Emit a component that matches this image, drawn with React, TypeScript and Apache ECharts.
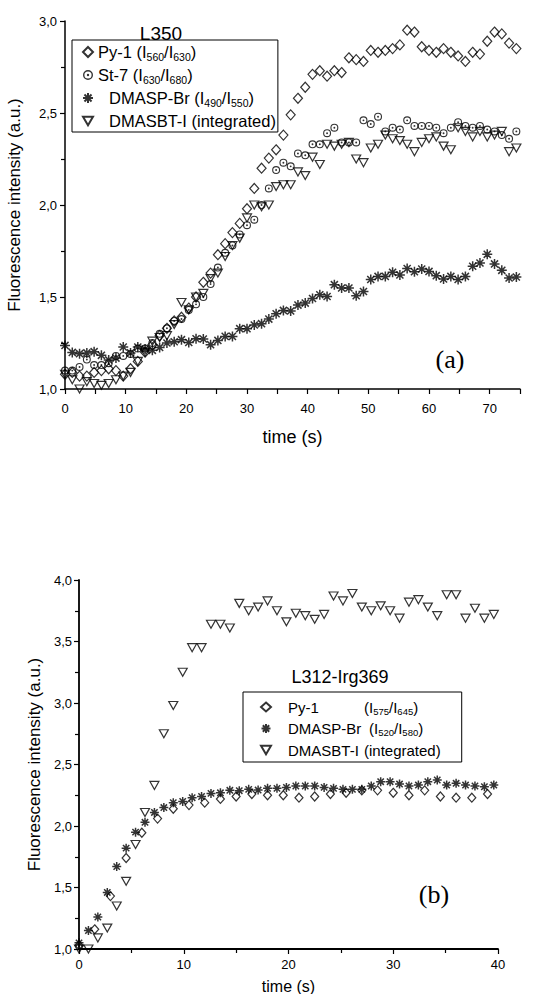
import React, { useEffect, useRef } from "react";
import * as echarts from "echarts";

// ---------- Panel (a): L350 ----------
const topTime = [0, 1.2, 2.4, 3.6, 4.8, 6, 7.2, 8.4, 9.6, 10.8, 12, 13.2, 14.4, 15.6, 16.8, 18, 19.2, 20.4, 21.6, 22.8, 24, 25.2, 26.4, 27.6, 28.8, 30, 31.2, 32.4, 33.6, 34.8, 36, 37.2, 38.4, 39.6, 40.8, 42, 43.2, 44.4, 45.6, 46.8, 48, 49.2, 50.4, 51.6, 52.8, 54, 55.2, 56.4, 57.6, 58.8, 60, 61.2, 62.4, 63.6, 64.8, 66, 67.2, 68.4, 69.6, 70.8, 72, 73.2, 74.4];
const topPy1 = [1.08, 1.09, 1.07, 1.07, 1.09, 1.10, 1.11, 1.10, 1.07, 1.11, 1.15, 1.20, 1.24, 1.29, 1.33, 1.37, 1.39, 1.44, 1.50, 1.58, 1.63, 1.73, 1.79, 1.85, 1.90, 1.98, 2.09, 2.20, 2.255, 2.30, 2.38, 2.49, 2.58, 2.64, 2.71, 2.73, 2.70, 2.73, 2.72, 2.80, 2.79, 2.78, 2.84, 2.83, 2.84, 2.85, 2.87, 2.95, 2.94, 2.86, 2.84, 2.83, 2.85, 2.83, 2.81, 2.78, 2.83, 2.82, 2.89, 2.94, 2.93, 2.88, 2.85];
const topSt7 = [1.10, 1.10, 1.12, 1.16, 1.13, 1.13, 1.14, 1.18, 1.18, 1.19, 1.22, 1.22, 1.25, 1.30, 1.33, 1.37, 1.38, 1.43, 1.46, 1.50, 1.57, 1.66, 1.74, 1.78, 1.84, 1.89, 1.92, 2.00, 2.09, 2.19, 2.23, 2.21, 2.28, 2.27, 2.33, 2.33, 2.39, 2.42, 2.34, 2.34, 2.34, 2.46, 2.44, 2.48, 2.40, 2.42, 2.41, 2.46, 2.43, 2.43, 2.43, 2.42, 2.39, 2.42, 2.45, 2.43, 2.42, 2.43, 2.41, 2.40, 2.38, 2.36, 2.40];
const topDmaspBr = [1.237, 1.199, 1.192, 1.196, 1.203, 1.183, 1.158, 1.168, 1.228, 1.196, 1.228, 1.217, 1.210, 1.226, 1.250, 1.257, 1.268, 1.253, 1.273, 1.272, 1.241, 1.264, 1.286, 1.286, 1.328, 1.328, 1.348, 1.355, 1.380, 1.409, 1.427, 1.424, 1.456, 1.467, 1.492, 1.512, 1.503, 1.567, 1.549, 1.549, 1.507, 1.530, 1.595, 1.612, 1.612, 1.634, 1.620, 1.655, 1.637, 1.652, 1.639, 1.616, 1.598, 1.612, 1.595, 1.612, 1.667, 1.685, 1.732, 1.680, 1.645, 1.603, 1.609];
const topDmasbtI = [1.08, 1.05, 1.00, 1.04, 1.03, 1.02, 1.03, 1.05, 1.07, 1.09, 1.15, 1.20, 1.26, 1.28, 1.29, 1.35, 1.47, 1.43, 1.50, 1.52, 1.60, 1.63, 1.72, 1.78, 1.82, 1.93, 2.00, 1.99, 2.00, 2.10, 2.11, 2.11, 2.18, 2.16, 2.26, 2.22, 2.33, 2.32, 2.33, 2.34, 2.25, 2.23, 2.31, 2.33, 2.38, 2.36, 2.35, 2.33, 2.29, 2.34, 2.36, 2.37, 2.32, 2.30, 2.42, 2.40, 2.37, 2.40, 2.37, 2.38, 2.40, 2.29, 2.31];

// ---------- Panel (b): L312-Irg369 ----------
const botTime = [0, 0.9, 1.8, 2.7, 3.6, 4.5, 5.4, 6.3, 7.2, 8.1, 9, 9.9, 10.8, 11.7, 12.6, 13.5, 14.4, 15.3, 16.2, 17.1, 18, 18.9, 19.8, 20.7, 21.6, 22.5, 23.4, 24.3, 25.2, 26.1, 27, 27.9, 28.8, 29.7, 30.6, 31.5, 32.4, 33.3, 34.2, 35.1, 36, 36.9, 37.8, 38.7, 39.6];
const botPyTime = [0, 1.5, 3, 4.5, 6, 7.5, 9, 10.5, 12, 13.5, 15, 16.5, 18, 19.5, 21, 22.5, 24, 25.5, 27, 28.5, 30, 31.5, 33, 34.5, 36, 37.5, 39];
const botPy1 = [1.03, 1.16, 1.43, 1.74, 1.945, 2.06, 2.14, 2.17, 2.19, 2.22, 2.24, 2.26, 2.25, 2.25, 2.23, 2.24, 2.26, 2.27, 2.29, 2.29, 2.27, 2.25, 2.29, 2.24, 2.23, 2.23, 2.26];
const botDmaspBr = [1.05, 1.15, 1.26, 1.46, 1.67, 1.82, 1.95, 2.03, 2.11, 2.15, 2.19, 2.20, 2.23, 2.24, 2.265, 2.27, 2.29, 2.287, 2.298, 2.292, 2.306, 2.306, 2.314, 2.325, 2.325, 2.325, 2.314, 2.306, 2.298, 2.298, 2.298, 2.325, 2.36, 2.36, 2.341, 2.325, 2.333, 2.36, 2.374, 2.333, 2.347, 2.333, 2.325, 2.319, 2.333];
const botDmasbtI = [1.00, 1.00, 1.09, 1.17, 1.35, 1.55, 1.85, 2.11, 2.33, 2.75, 2.98, 3.25, 3.45, 3.45, 3.64, 3.64, 3.61, 3.81, 3.75, 3.78, 3.83, 3.75, 3.66, 3.73, 3.71, 3.68, 3.72, 3.87, 3.83, 3.89, 3.78, 3.75, 3.79, 3.75, 3.69, 3.82, 3.84, 3.78, 3.71, 3.88, 3.88, 3.69, 3.77, 3.69, 3.72];

const FONT = '"Liberation Sans", Arial, Helvetica, sans-serif';
const SERIF = '"Liberation Serif", "Times New Roman", serif';

const SYM_STAR = "path://M10,0L10,20M0,10L20,10M2.93,2.93L17.07,17.07M2.93,17.07L17.07,2.93";
const SYM_CIRCDOT =
  "path://M10,0A10,10 0 1,1 10,20A10,10 0 1,1 10,0Z M10,2.8A7.2,7.2 0 1,0 10,17.2A7.2,7.2 0 1,0 10,2.8Z M10,7.6A2.4,2.4 0 1,1 10,12.4A2.4,2.4 0 1,1 10,7.6Z";
const SYM_TRI = "path://M0,0L20,0L10,17.3Z";

const hollow = { color: "rgba(255,255,255,0)", borderColor: "#000", borderWidth: 1.2 };
const starStyle = { color: "#000", borderColor: "#000", borderWidth: 1.5 };
const dotStyle = { color: "#000", borderWidth: 0 };

const zip = (xs: number[], ys: number[]) => xs.map((x, i) => [x, ys[i]]);
const comma = (v: number) => v.toFixed(1).replace(".", ",");

const topLabels: Record<string, string> = {
  "Py-1 a": "Py-1 (I{s|560}/I{s|630})",
  "St-7 a": "St-7 (I{s|630}/I{s|680})",
  "DMASP-Br a": "{p| }DMASP-Br (I{s|490}/I{s|550})",
  "DMASBT-I a": "{p| }DMASBT-I (integrated)",
};
const botLabels: Record<string, string> = {
  "Py-1 b": "{q| }{a|Py-1}(I{s|575}/I{s|645})",
  "DMASP-Br b": "{q| }{b|DMASP-Br}(I{s|520}/I{s|580})",
  "DMASBT-I b": "{q| }{c|DMASBT-I}(integrated)",
};

function axisCommon(lineWidth: number) {
  return {
    axisLine: { show: true, onZero: false, lineStyle: { color: "#000", width: lineWidth } },
    axisTick: { show: true, inside: false, length: 5, lineStyle: { color: "#000", width: 1.2 } },
    splitLine: { show: false },
  };
}

export default function App() {
  const ref = useRef<HTMLDivElement>(null);
  useEffect(() => {
    if (!ref.current) return;
    const chart = echarts.init(ref.current, null, { renderer: "svg" });
    const tF = { fontSize: 16.5, lineHeight: 20, color: "#000", fontFamily: FONT };
    const bF = { fontSize: 15, lineHeight: 18, color: "#000", fontFamily: FONT };
    const option: any = {
      animation: false,
      backgroundColor: "#fff",
      textStyle: { fontFamily: FONT, color: "#000" },
      grid: [
        { left: 65, top: 21, width: 455, height: 368, containLabel: false, outerBoundsMode: "none" },
        { left: 79, top: 580, width: 419, height: 369, containLabel: false, outerBoundsMode: "none" },
      ],
      xAxis: [
        {
          type: "value", gridIndex: 0, min: 0, max: 75, interval: 5,
          ...axisCommon(1.5),
          axisLabel: { formatter: (v: number) => (v % 10 === 0 ? String(v) : ""), fontSize: 13, color: "#000", margin: 13, fontFamily: FONT },
          name: "time (s)", nameLocation: "middle", nameGap: 39,
          nameTextStyle: { fontSize: 18, color: "#000", fontFamily: FONT },
        },
        {
          type: "value", gridIndex: 1, min: 0, max: 40, interval: 10,
          ...axisCommon(1.8),
          minorTick: { show: true, splitNumber: 2, length: 4, lineStyle: { color: "#000", width: 1.2 } },
          axisLabel: { formatter: (v: number) => String(v), fontSize: 13, color: "#000", margin: 9, fontFamily: FONT },
          name: "time (s)", nameLocation: "middle", nameGap: 29,
          nameTextStyle: { fontSize: 16, color: "#000", fontFamily: FONT },
        },
      ],
      yAxis: [
        {
          type: "value", gridIndex: 0, min: 1, max: 3, interval: 0.5,
          ...axisCommon(1.5),
          minorTick: { show: true, splitNumber: 2, length: 4, lineStyle: { color: "#000", width: 1.2 } },
          axisLabel: { formatter: comma, fontSize: 13, color: "#000", margin: 8, fontFamily: FONT },
          name: "Fluorescence intensity (a.u.)", nameLocation: "middle", nameGap: 42,
          nameTextStyle: { fontSize: 17, color: "#000", fontFamily: FONT },
        },
        {
          type: "value", gridIndex: 1, min: 1, max: 4, interval: 0.5,
          ...axisCommon(1.8),
          minorTick: { show: true, splitNumber: 2, length: 4, lineStyle: { color: "#000", width: 1.2 } },
          axisLabel: { formatter: comma, fontSize: 13, color: "#000", margin: 7, fontFamily: FONT },
          name: "Fluorescence intensity (a.u.)", nameLocation: "middle", nameGap: 32,
          nameTextStyle: { fontSize: 17, color: "#000", fontFamily: FONT },
        },
      ],
      legend: [
        {
          data: Object.keys(topLabels),
          orient: "vertical", left: 72, top: 40,
          padding: [2, 2, 1, 10], itemGap: 3, itemWidth: 10, itemHeight: 10,
          borderColor: "#000", borderWidth: 1, backgroundColor: "#fff",
          selectedMode: false,
          formatter: (n: string) => topLabels[n],
          textStyle: {
            ...tF,
            rich: {
              s: { fontSize: 10.5, lineHeight: 10, verticalAlign: "bottom", color: "#000", fontFamily: FONT },
              p: { ...tF, width: 11 },
            },
          },
        },
        {
          data: Object.keys(botLabels),
          orient: "vertical", left: 243, top: 692,
          padding: [6, 21, 3, 17], itemGap: 3.5, itemWidth: 10, itemHeight: 9,
          borderColor: "#000", borderWidth: 1, backgroundColor: "#fff",
          selectedMode: false,
          formatter: (n: string) => botLabels[n],
          textStyle: {
            ...bF,
            rich: {
              s: { fontSize: 9.5, lineHeight: 10, verticalAlign: "bottom", color: "#000", fontFamily: FONT },
              q: { ...bF, width: 12 },
              a: { ...bF, width: 76 },
              b: { ...bF, width: 81 },
              c: { ...bF, width: 76 },
            },
          },
        },
      ],
      graphic: [
        { type: "text", x: 161, y: 33, z: 100, style: { text: "L350", fontSize: 19, fontFamily: FONT, fill: "#000", align: "center", verticalAlign: "middle" } },
        { type: "text", x: 450, y: 359, z: 100, style: { text: "(a)", fontSize: 26, fontFamily: SERIF, fill: "#000", align: "center", verticalAlign: "middle" } },
        { type: "text", x: 340, y: 677, z: 100, style: { text: "L312-Irg369", fontSize: 18, fontFamily: FONT, fill: "#000", align: "center", verticalAlign: "middle" } },
        { type: "text", x: 434, y: 894, z: 100, style: { text: "(b)", fontSize: 26, fontFamily: SERIF, fill: "#000", align: "center", verticalAlign: "middle" } },
      ],
      series: [
        { name: "Py-1 a", type: "scatter", xAxisIndex: 0, yAxisIndex: 0, clip: false, data: zip(topTime, topPy1), symbol: "diamond", symbolSize: [9, 10], itemStyle: hollow },
        { name: "St-7 a", type: "scatter", xAxisIndex: 0, yAxisIndex: 0, clip: false, data: zip(topTime, topSt7), symbol: SYM_CIRCDOT, symbolSize: 8, itemStyle: dotStyle },
        { name: "DMASP-Br a", type: "scatter", xAxisIndex: 0, yAxisIndex: 0, clip: false, data: zip(topTime, topDmaspBr), symbol: SYM_STAR, symbolSize: 10, itemStyle: starStyle },
        { name: "DMASBT-I a", type: "scatter", xAxisIndex: 0, yAxisIndex: 0, clip: false, data: zip(topTime, topDmasbtI), symbol: SYM_TRI, symbolSize: [9, 8], itemStyle: hollow },
        { name: "Py-1 b", type: "scatter", xAxisIndex: 1, yAxisIndex: 1, clip: false, data: zip(botPyTime, botPy1), symbol: "diamond", symbolSize: [8, 9], itemStyle: hollow },
        { name: "DMASP-Br b", type: "scatter", xAxisIndex: 1, yAxisIndex: 1, clip: false, data: zip(botTime, botDmaspBr), symbol: SYM_STAR, symbolSize: 9, itemStyle: starStyle },
        { name: "DMASBT-I b", type: "scatter", xAxisIndex: 1, yAxisIndex: 1, clip: false, data: zip(botTime, botDmasbtI), symbol: SYM_TRI, symbolSize: [9, 8], itemStyle: hollow },
      ],
    };
    chart.setOption(option);
    return () => chart.dispose();
  }, []);
  return (
    <div
      ref={ref}
      style={{ position: "absolute", left: 0, top: 0, width: 534, height: 994, background: "#fff" }}
    />
  );
}
